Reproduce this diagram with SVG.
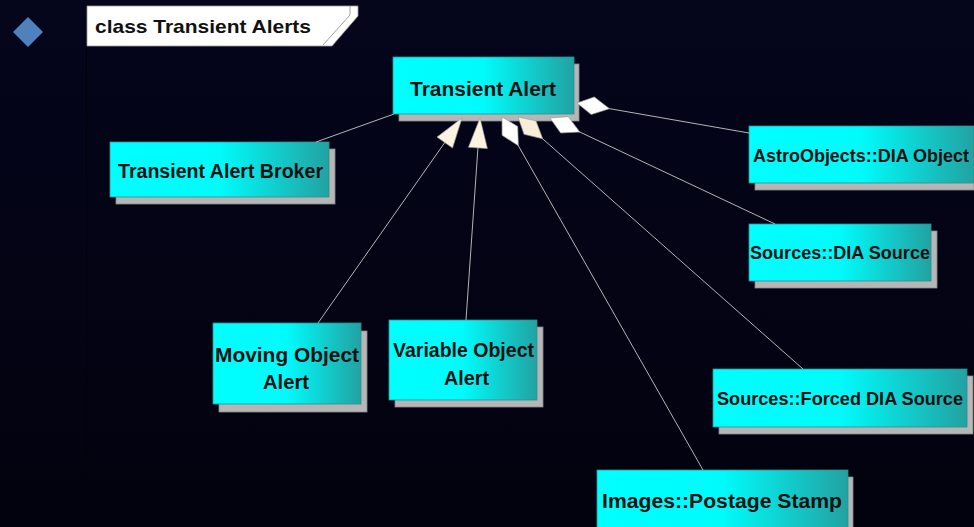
<svg xmlns="http://www.w3.org/2000/svg" width="974" height="527" viewBox="0 0 974 527">
  <defs>
    <linearGradient id="bg" x1="0" y1="0" x2="0" y2="1">
      <stop offset="0" stop-color="#05051c"/>
      <stop offset="1" stop-color="#02020e"/>
    </linearGradient>
    <linearGradient id="nodeFill" x1="0" y1="0" x2="1" y2="0">
      <stop offset="0" stop-color="#00ffff"/>
      <stop offset="0.5" stop-color="#00fbfb"/>
      <stop offset="1" stop-color="#22a2a2"/>
    </linearGradient>
    <marker id="inherit" markerUnits="userSpaceOnUse" orient="auto" refX="0" refY="0" markerWidth="40" markerHeight="40" overflow="visible">
      <path d="M0,0 L30,-9.5 L30,9.5 Z" fill="#fbf2e0" stroke="#9a9a9a" stroke-width="0.6"/>
    </marker>
    <marker id="diamondWhite" markerUnits="userSpaceOnUse" orient="auto" refX="0" refY="0" markerWidth="40" markerHeight="40" overflow="visible">
      <path d="M0,0 L16,-9 L33,0 L16,9 Z" fill="#ffffff" stroke="#9a9a9a" stroke-width="0.6"/>
    </marker>
    <marker id="diamondCream" markerUnits="userSpaceOnUse" orient="auto" refX="0" refY="0" markerWidth="40" markerHeight="40" overflow="visible">
      <path d="M0,0 L16,-9 L33,0 L16,9 Z" fill="#f6eddb" stroke="#9a9a9a" stroke-width="0.6"/>
    </marker>
  </defs>
  <style>
    .shadow { fill: #b6b6b6; stroke: #8a8a8a; stroke-width: 0.8; }
    .box { fill: url(#nodeFill); stroke: #2e8f8f; stroke-width: 0.8; }
    .lbl { font-family: "Liberation Sans", Arial, sans-serif; font-weight: bold; font-size: 19.5px; fill: #111111; text-anchor: middle; }
    .lbl.sm { font-size: 18px; }
    .conn { stroke: #b4b4b4; stroke-width: 1; fill: none; }
  </style>

  <rect x="0" y="0" width="974" height="527" fill="url(#bg)"/>
  <line x1="86.5" y1="46" x2="86.5" y2="527" stroke="#01010a" stroke-width="1"/>

  <g id="header">
    <polygon points="28,17 43,32 28,47 13,32" fill="#4f81bd"/>
    <polygon points="87,6 358,6 358,16 332,46 87,46" fill="#ffffff" stroke="#9a9a9a" stroke-width="0.8"/>
    <polyline points="350,6 350,15 323,45" fill="none" stroke="#a0a0a0" stroke-width="1"/>
    <text x="95" y="33" font-family="'Liberation Sans', Arial, sans-serif" font-weight="bold" font-size="18.5" fill="#111111" textLength="216" lengthAdjust="spacingAndGlyphs">class  Transient Alerts</text>
  </g>

  <g id="node-transient-alert">
    <rect class="shadow" x="399" y="64" width="180" height="57"/>
    <rect class="box" x="393" y="57" width="181" height="57"/>
    <text class="lbl" x="483" y="96" textLength="146" lengthAdjust="spacingAndGlyphs">Transient Alert</text>
  </g>

  <g id="node-broker">
    <rect class="shadow" x="116" y="149" width="219" height="55"/>
    <rect class="box" x="110" y="142" width="219" height="55"/>
    <text class="lbl" x="220.5" y="178" textLength="205" lengthAdjust="spacingAndGlyphs">Transient Alert  Broker</text>
  </g>

  <g id="node-dia-object">
    <rect class="shadow" x="755" y="133" width="219" height="57"/>
    <rect class="box" x="749" y="126" width="225" height="57"/>
    <text class="lbl sm" x="861" y="162" textLength="216" lengthAdjust="spacingAndGlyphs">AstroObjects::DIA Object</text>
  </g>

  <g id="node-dia-source">
    <rect class="shadow" x="755" y="231" width="182" height="57"/>
    <rect class="box" x="749" y="224" width="182" height="57"/>
    <text class="lbl sm" x="840" y="259" textLength="180" lengthAdjust="spacingAndGlyphs">Sources::DIA Source</text>
  </g>

  <g id="node-forced-dia-source">
    <rect class="shadow" x="719" y="376" width="254" height="58"/>
    <rect class="box" x="713" y="369" width="254" height="58"/>
    <text class="lbl sm" x="840" y="405" textLength="246" lengthAdjust="spacingAndGlyphs">Sources::Forced DIA Source</text>
  </g>

  <g id="node-moving-object-alert">
    <rect class="shadow" x="219" y="331" width="148" height="81"/>
    <rect class="box" x="213" y="323" width="148" height="81"/>
    <text class="lbl" x="287" y="362" textLength="144" lengthAdjust="spacingAndGlyphs">Moving  Object</text>
    <text class="lbl" x="286" y="389" textLength="46" lengthAdjust="spacingAndGlyphs">Alert</text>
  </g>

  <g id="node-variable-object-alert">
    <rect class="shadow" x="395" y="327" width="148" height="80"/>
    <rect class="box" x="389" y="320" width="148" height="80"/>
    <text class="lbl" x="463.5" y="357" textLength="141" lengthAdjust="spacingAndGlyphs">Variable Object</text>
    <text class="lbl" x="466.5" y="385" textLength="45" lengthAdjust="spacingAndGlyphs">Alert</text>
  </g>

  <g id="node-postage-stamp">
    <rect class="shadow" x="603" y="477" width="250" height="70"/>
    <rect class="box" x="597" y="470" width="251" height="70"/>
    <text class="lbl" x="722" y="508" textLength="240" lengthAdjust="spacingAndGlyphs">Images::Postage  Stamp</text>
  </g>

  <g id="connectors">
    <line class="conn" x1="394" y1="114" x2="316" y2="142"/>
    <line class="conn" x1="462" y1="118" x2="318" y2="323" marker-start="url(#inherit)"/>
    <line class="conn" x1="480" y1="118" x2="466" y2="320" marker-start="url(#inherit)"/>
    <line class="conn" x1="502" y1="117" x2="703" y2="470" marker-start="url(#diamondWhite)"/>
    <line class="conn" x1="518" y1="117" x2="803" y2="369" marker-start="url(#diamondCream)"/>
    <line class="conn" x1="550" y1="118" x2="775" y2="224" marker-start="url(#diamondWhite)"/>
    <line class="conn" x1="577" y1="103" x2="749" y2="133" marker-start="url(#diamondWhite)"/>
  </g>
</svg>
